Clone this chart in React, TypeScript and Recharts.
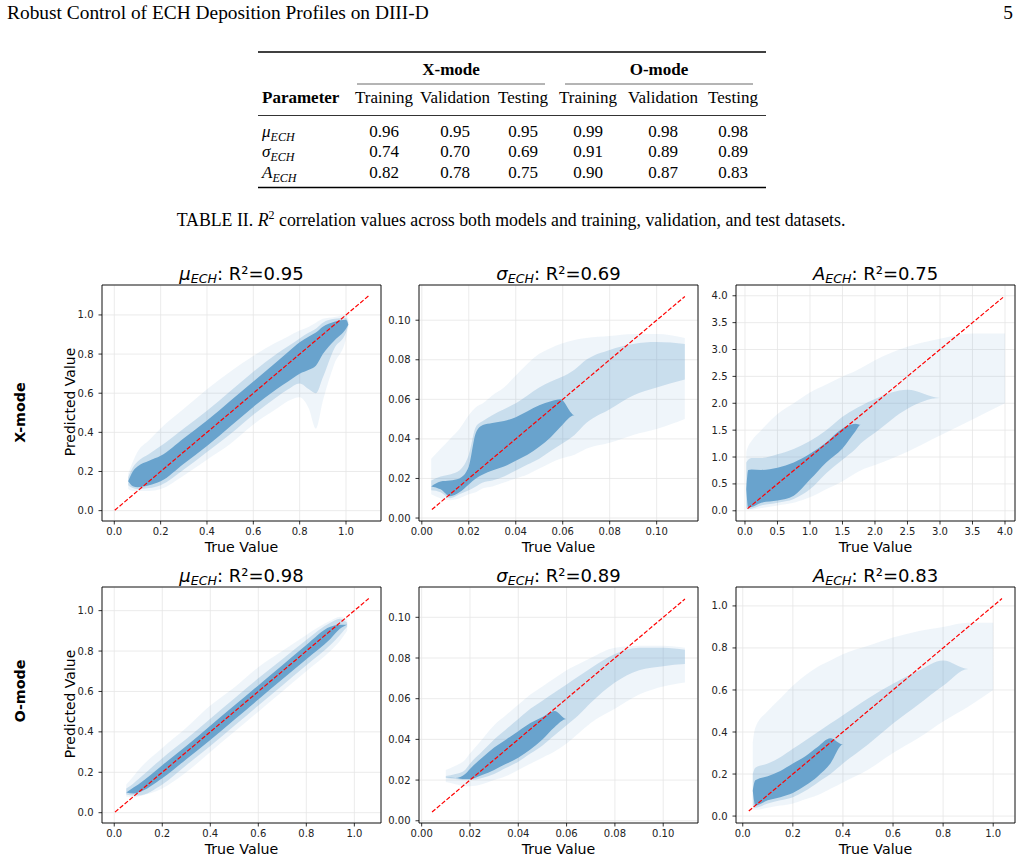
import React from "react";
import { ComposedChart, Area, XAxis, YAxis, CartesianGrid, ReferenceLine, ReferenceArea } from "recharts";

type Band = [number, number];

// ---- X-mode, mu_ECH (cloud envelopes: [low, high] per x)
const xmMuX = [0.06, 0.08, 0.1, 0.15, 0.2, 0.3, 0.4, 0.5, 0.6, 0.7, 0.75, 0.8, 0.84, 0.87, 0.9, 0.95, 1.0, 1.01];
const xmMuOuter: Band[] = [[0.11, 0.19], [0.1, 0.25], [0.1, 0.3], [0.1, 0.36], [0.11, 0.42], [0.18, 0.52], [0.26, 0.62], [0.34, 0.71], [0.44, 0.79], [0.52, 0.86], [0.56, 0.89], [0.58, 0.92], [0.52, 0.94], [0.42, 0.96], [0.56, 0.98], [0.75, 0.99], [0.88, 1.0], [0.94, 0.98]];
const xmMuMid: Band[] = [[0.13, 0.17], [0.115, 0.22], [0.11, 0.25], [0.115, 0.29], [0.13, 0.33], [0.21, 0.42], [0.3, 0.51], [0.39, 0.61], [0.49, 0.71], [0.58, 0.8], [0.62, 0.84], [0.65, 0.88], [0.62, 0.91], [0.6, 0.93], [0.68, 0.96], [0.83, 0.98], [0.91, 0.985], [0.95, 0.96]];
const xmMuCore: Band[] = [[0.15, 0.15], [0.125, 0.2], [0.12, 0.225], [0.13, 0.255], [0.15, 0.28], [0.24, 0.37], [0.33, 0.46], [0.43, 0.56], [0.53, 0.66], [0.62, 0.76], [0.66, 0.81], [0.7, 0.86], [0.72, 0.89], [0.74, 0.91], [0.8, 0.94], [0.87, 0.965], [0.93, 0.975], [0.95, 0.95]];
const xmMuDiag = [0.002, 1.097];

// ---- X-mode, sigma_ECH
const xmSigX = [0.004, 0.008, 0.012, 0.016, 0.02, 0.023, 0.026, 0.03, 0.035, 0.04, 0.045, 0.05, 0.055, 0.059, 0.065, 0.07, 0.08, 0.09, 0.1, 0.112];
const xmSigOuter: Band[] = [[0.012, 0.03], [0.01, 0.035], [0.009, 0.04], [0.01, 0.045], [0.012, 0.052], [0.013, 0.056], [0.015, 0.058], [0.016, 0.062], [0.018, 0.066], [0.02, 0.072], [0.022, 0.078], [0.025, 0.083], [0.028, 0.086], [0.03, 0.088], [0.032, 0.09], [0.035, 0.091], [0.038, 0.092], [0.042, 0.093], [0.045, 0.093], [0.05, 0.091]];
const xmSigMid: Band[] = [[0.014, 0.019], [0.013, 0.021], [0.01, 0.022], [0.012, 0.024], [0.014, 0.032], [0.016, 0.046], [0.018, 0.049], [0.019, 0.052], [0.021, 0.055], [0.024, 0.058], [0.027, 0.062], [0.03, 0.066], [0.034, 0.069], [0.037, 0.071], [0.042, 0.075], [0.048, 0.08], [0.055, 0.085], [0.062, 0.088], [0.066, 0.089], [0.07, 0.088]];
const xmSigCore: Band[] = [[0.016, 0.016], [0.0145, 0.0185], [0.011, 0.019], [0.013, 0.02], [0.017, 0.026], [0.02, 0.043], [0.022, 0.047], [0.024, 0.048], [0.026, 0.049], [0.029, 0.051], [0.032, 0.054], [0.036, 0.057], [0.041, 0.059], [0.046, 0.06], [0.052, 0.052], [0.052, 0.052], [0.052, 0.052], [0.052, 0.052], [0.052, 0.052], [0.052, 0.052]];
const xmSigDiag = [0.0043, 0.112];

// ---- X-mode, A_ECH
const xmAmpX = [0.02, 0.05, 0.1, 0.25, 0.5, 0.75, 1.0, 1.25, 1.5, 1.7, 1.78, 2.0, 2.5, 3.0, 3.5, 4.0];
const xmAmpOuter: Band[] = [[0.02, 1.1], [0.02, 1.2], [0.02, 1.3], [0.05, 1.5], [0.1, 1.8], [0.15, 2.0], [0.25, 2.2], [0.4, 2.35], [0.55, 2.5], [0.7, 2.6], [0.75, 2.65], [0.85, 2.8], [1.1, 3.05], [1.4, 3.2], [1.7, 3.3], [2.0, 3.3]];
const xmAmpMid: Band[] = [[0.05, 0.9], [0.03, 0.95], [0.04, 0.98], [0.1, 0.98], [0.15, 1.05], [0.22, 1.15], [0.4, 1.3], [0.7, 1.5], [0.95, 1.75], [1.15, 1.9], [1.25, 1.95], [1.45, 2.08], [1.9, 2.25], [2.1, 2.1], [2.1, 2.1], [2.1, 2.1]];
const xmAmpCore: Band[] = [[0.4, 0.4], [0.06, 0.76], [0.07, 0.77], [0.15, 0.76], [0.19, 0.8], [0.28, 0.9], [0.58, 1.06], [0.9, 1.27], [1.16, 1.53], [1.48, 1.62], [1.6, 1.6], [1.6, 1.6], [1.6, 1.6], [1.6, 1.6], [1.6, 1.6], [1.6, 1.6]];
const xmAmpDiag = [0.04, 3.97];

// ---- O-mode, mu_ECH
const omMuX = [0.05, 0.08, 0.1, 0.2, 0.3, 0.4, 0.5, 0.6, 0.7, 0.8, 0.9, 0.94, 0.97];
const omMuOuter: Band[] = [[0.08, 0.14], [0.075, 0.18], [0.08, 0.21], [0.12, 0.32], [0.2, 0.42], [0.3, 0.53], [0.4, 0.62], [0.5, 0.72], [0.6, 0.8], [0.7, 0.88], [0.8, 0.95], [0.85, 0.97], [0.9, 0.96]];
const omMuMid: Band[] = [[0.09, 0.12], [0.085, 0.145], [0.085, 0.165], [0.14, 0.27], [0.235, 0.365], [0.33, 0.465], [0.43, 0.565], [0.53, 0.665], [0.63, 0.76], [0.73, 0.855], [0.83, 0.94], [0.88, 0.96], [0.92, 0.94]];
const omMuCore: Band[] = [[0.1, 0.1], [0.095, 0.125], [0.1, 0.14], [0.17, 0.235], [0.265, 0.33], [0.36, 0.43], [0.46, 0.53], [0.56, 0.63], [0.66, 0.73], [0.76, 0.83], [0.86, 0.92], [0.91, 0.93], [0.93, 0.93]];
const omMuDiag = [0.003, 1.06];

// ---- O-mode, sigma_ECH
const omSigX = [0.01, 0.014, 0.018, 0.02, 0.025, 0.03, 0.035, 0.04, 0.045, 0.05, 0.055, 0.06, 0.065, 0.07, 0.08, 0.09, 0.1, 0.109];
const omSigOuter: Band[] = [[0.019, 0.025], [0.018, 0.027], [0.017, 0.03], [0.017, 0.033], [0.018, 0.04], [0.02, 0.047], [0.022, 0.052], [0.025, 0.057], [0.028, 0.062], [0.031, 0.066], [0.034, 0.07], [0.038, 0.074], [0.043, 0.077], [0.048, 0.08], [0.055, 0.085], [0.062, 0.086], [0.066, 0.086], [0.068, 0.085]];
const omSigMid: Band[] = [[0.021, 0.022], [0.0205, 0.023], [0.02, 0.025], [0.02, 0.028], [0.021, 0.034], [0.023, 0.04], [0.026, 0.045], [0.029, 0.05], [0.033, 0.055], [0.037, 0.059], [0.042, 0.063], [0.047, 0.067], [0.052, 0.071], [0.058, 0.075], [0.068, 0.082], [0.074, 0.085], [0.076, 0.085], [0.077, 0.084]];
const omSigCore: Band[] = [[0.0215, 0.0215], [0.021, 0.021], [0.0205, 0.023], [0.0205, 0.0255], [0.0225, 0.031], [0.025, 0.036], [0.028, 0.04], [0.031, 0.044], [0.035, 0.048], [0.04, 0.051], [0.046, 0.054], [0.05, 0.05], [0.05, 0.05], [0.05, 0.05], [0.05, 0.05], [0.05, 0.05], [0.05, 0.05], [0.05, 0.05]];
const omSigDiag = [0.0043, 0.109];

// ---- O-mode, A_ECH
const omAmpX = [0.04, 0.05, 0.1, 0.15, 0.2, 0.25, 0.3, 0.35, 0.4, 0.5, 0.6, 0.7, 0.8, 0.9, 1.0];
const omAmpOuter: Band[] = [[0.03, 0.35], [0.03, 0.42], [0.04, 0.5], [0.05, 0.56], [0.06, 0.62], [0.08, 0.67], [0.1, 0.71], [0.13, 0.74], [0.16, 0.77], [0.22, 0.81], [0.3, 0.85], [0.37, 0.88], [0.45, 0.9], [0.52, 0.92], [0.6, 0.92]];
const omAmpMid: Band[] = [[0.05, 0.2], [0.04, 0.23], [0.06, 0.25], [0.075, 0.28], [0.09, 0.32], [0.12, 0.36], [0.16, 0.4], [0.2, 0.44], [0.25, 0.48], [0.34, 0.56], [0.44, 0.63], [0.53, 0.69], [0.62, 0.74], [0.7, 0.7], [0.7, 0.7]];
const omAmpCore: Band[] = [[0.12, 0.12], [0.05, 0.17], [0.075, 0.19], [0.09, 0.215], [0.11, 0.25], [0.145, 0.285], [0.19, 0.33], [0.25, 0.37], [0.34, 0.34], [0.34, 0.34], [0.34, 0.34], [0.34, 0.34], [0.34, 0.34], [0.34, 0.34], [0.34, 0.34]];
const omAmpDiag = [0.024, 1.035];

// tick labels
const unitTicks = [0, 0.2, 0.4, 0.6, 0.8, 1.0];
const sigmaTicks = [0, 0.02, 0.04, 0.06, 0.08, 0.1];
const ampTicks = [0, 0.5, 1.0, 1.5, 2.0, 2.5, 3.0, 3.5, 4.0];

// table values
const tableModes = ["X-mode", "O-mode"];
const tableCols = ["Training", "Validation", "Testing", "Training", "Validation", "Testing"];
const tableParams = ["μ", "σ", "A"];
const muRow = [0.96, 0.95, 0.95, 0.99, 0.98, 0.98];
const sigmaRow = [0.74, 0.70, 0.69, 0.91, 0.89, 0.89];
const ampRow = [0.82, 0.78, 0.75, 0.90, 0.87, 0.83];

const titleR2 = ["0.95", "0.69", "0.75", "0.98", "0.89", "0.83"];

const BLUE = "#69a3cd";
const W = 279;
const H = 236;
const PAD_L = 45;
const PAD_R = 6;
const PAD_T = 6;
const PAD_B = 26;
const COLS = [102, 419, 736];
const ROWS = [285, 587];

const panels = [
  { xs: xmMuX, outer: xmMuOuter, mid: xmMuMid, core: xmMuCore, diag: xmMuDiag, ticks: unitTicks, dec: 1, xd: [-0.053, 1.151], yd: [-0.053, 1.153], sym: "μ" },
  { xs: xmSigX, outer: xmSigOuter, mid: xmSigMid, core: xmSigCore, diag: xmSigDiag, ticks: sigmaTicks, dec: 2, xd: [-0.0012, 0.1176], yd: [-0.0015, 0.1178], sym: "σ" },
  { xs: xmAmpX, outer: xmAmpOuter, mid: xmAmpMid, core: xmAmpCore, diag: xmAmpDiag, ticks: ampTicks, dec: 1, xd: [-0.138, 4.154], yd: [-0.19, 4.2], sym: "A" },
  { xs: omMuX, outer: omMuOuter, mid: omMuMid, core: omMuCore, diag: omMuDiag, ticks: unitTicks, dec: 1, xd: [-0.051, 1.111], yd: [-0.051, 1.117], sym: "μ" },
  { xs: omSigX, outer: omSigOuter, mid: omSigMid, core: omSigCore, diag: omSigDiag, ticks: sigmaTicks, dec: 2, xd: [-0.0011, 0.1144], yd: [-0.0011, 0.1149], sym: "σ" },
  { xs: omAmpX, outer: omAmpOuter, mid: omAmpMid, core: omAmpCore, diag: omAmpDiag, ticks: unitTicks, dec: 1, xd: [-0.027, 1.087], yd: [-0.033, 1.09], sym: "A" },
];

const tickStyle = { fontSize: 10, fill: "#222", fontFamily: "DejaVu Sans" };

function Panel({ p, left, top }: { p: any; left: number; top: number }) {
  const rows = p.xs.map((x: number, i: number) => ({ x, outer: p.outer[i], mid: p.mid[i], core: p.core[i] }));
  const fmt = (v: number) => v.toFixed(p.dec);
  return (
    <div style={{ position: "absolute", left: left - PAD_L, top: top - PAD_T }}>
      <ComposedChart width={W + PAD_L + PAD_R} height={H + PAD_T + PAD_B} data={rows} margin={{ top: PAD_T, right: PAD_R, bottom: 0, left: 0 }}>
        <CartesianGrid stroke="#e6e6e6" strokeWidth={0.8} />
        <XAxis type="number" dataKey="x" domain={p.xd} ticks={p.ticks} allowDataOverflow interval={0} tickFormatter={fmt} height={PAD_B} axisLine={false} tickLine={{ stroke: "#000", strokeWidth: 0.8 }} tickSize={3.5} tickMargin={3} tick={tickStyle} />
        <YAxis type="number" domain={p.yd} ticks={p.ticks} allowDataOverflow interval={0} tickFormatter={fmt} width={PAD_L} axisLine={false} tickLine={{ stroke: "#000", strokeWidth: 0.8 }} tickSize={3.5} tickMargin={5} tick={tickStyle} />
        <Area dataKey="outer" type="monotone" stroke="none" fill={BLUE} fillOpacity={0.11} isAnimationActive={false} />
        <Area dataKey="mid" type="monotone" stroke="none" fill={BLUE} fillOpacity={0.28} isAnimationActive={false} />
        <Area dataKey="core" type="monotone" stroke="none" fill={BLUE} fillOpacity={1} isAnimationActive={false} />
        <ReferenceLine segment={[{ x: p.diag[0], y: p.diag[0] }, { x: p.diag[1], y: p.diag[1] }]} stroke="#ff0000" strokeWidth={1.2} strokeDasharray="4.4 1.9" ifOverflow="visible" />
        <ReferenceArea x1={p.xd[0]} x2={p.xd[1]} y1={p.yd[0]} y2={p.yd[1]} fill="none" stroke="#000" strokeWidth={0.9} ifOverflow="visible" />
      </ComposedChart>
    </div>
  );
}

const colX = [384, 455, 523, 588, 663, 733];
const rowY = [136.5, 157, 178];

function Overlay() {
  const rowsData = [muRow, sigmaRow, ampRow];
  return (
    <svg width={1027} height={861} style={{ position: "absolute", left: 0, top: 0, pointerEvents: "none" }}>
      {/* page header */}
      <g fontFamily="Liberation Serif" fill="#000">
        <text x={7} y={19} fontSize={19.4}>Robust Control of ECH Deposition Profiles on DIII-D</text>
        <text x={1013} y={19} fontSize={19.4} textAnchor="end">5</text>

        {/* table */}
        <line x1={258} x2={766} y1={52} y2={52} stroke="#000" strokeWidth={1.3} />
        <text x={451} y={74.5} fontSize={17} fontWeight="bold" textAnchor="middle">{tableModes[0]}</text>
        <text x={659} y={74.5} fontSize={17} fontWeight="bold" textAnchor="middle">{tableModes[1]}</text>
        <line x1={357} x2={545} y1={84} y2={84} stroke="#444" strokeWidth={0.8} />
        <line x1={565} x2={753} y1={84} y2={84} stroke="#444" strokeWidth={0.8} />
        <text x={262} y={103} fontSize={17} fontWeight="bold">Parameter</text>
        {tableCols.map((c, i) => (
          <text key={"c" + i} x={colX[i]} y={103} fontSize={17} textAnchor="middle">{c}</text>
        ))}
        <line x1={258} x2={766} y1={115.5} y2={115.5} stroke="#000" strokeWidth={0.8} />
        {tableParams.map((s, r) => (
          <text key={"p" + r} x={262} y={rowY[r]} fontSize={17} fontStyle="italic">
            {s}
            <tspan fontSize={12} dy={4}>ECH</tspan>
          </text>
        ))}
        {rowsData.map((row, r) =>
          row.map((v, i) => (
            <text key={"v" + r + i} x={colX[i]} y={rowY[r]} fontSize={17} textAnchor="middle">{v.toFixed(2)}</text>
          ))
        )}
        <line x1={258} x2={766} y1={187.5} y2={187.5} stroke="#000" strokeWidth={1.3} />

        <text x={511} y={226} fontSize={17.8} textAnchor="middle">
          TABLE II. <tspan fontStyle="italic">R</tspan>
          <tspan fontSize={12} dy={-7}>2</tspan>
          <tspan dy={7}> correlation values across both models and training, validation, and test datasets.</tspan>
        </text>
      </g>

      {/* figure texts */}
      <g fontFamily="DejaVu Sans" fill="#000">
        {panels.map((p, i) => {
          const left = COLS[i % 3];
          const top = ROWS[Math.floor(i / 3)];
          const cx = left + W / 2;
          return (
            <g key={"t" + i}>
              <text x={cx} y={top - 5} fontSize={18} textAnchor="middle">
                <tspan fontStyle="italic">{p.sym}</tspan>
                <tspan fontStyle="italic" fontSize={12.6} dy={3}>ECH</tspan>
                <tspan dy={-3}>: R²={titleR2[i]}</tspan>
              </text>
              <text x={cx} y={top + H + 30.5} fontSize={14.2} textAnchor="middle">True Value</text>
            </g>
          );
        })}
        {ROWS.map((top, r) => (
          <g key={"y" + r}>
            <text x={75} y={top + 117} fontSize={14} textAnchor="middle" transform={`rotate(-90 75 ${top + 117})`}>Predicted Value</text>
            <text x={25} y={r === 0 ? 412.5 : 691} fontSize={14.3} fontWeight="bold" textAnchor="middle" transform={`rotate(-90 25 ${r === 0 ? 412.5 : 691})`}>{tableModes[r]}</text>
          </g>
        ))}
      </g>
    </svg>
  );
}

export default function App() {
  return (
    <div style={{ position: "absolute", left: 0, top: 0, width: 1027, height: 861, background: "#fff" }}>
      {panels.map((p, i) => (
        <Panel key={i} p={p} left={COLS[i % 3]} top={ROWS[Math.floor(i / 3)]} />
      ))}
      <Overlay />
    </div>
  );
}
